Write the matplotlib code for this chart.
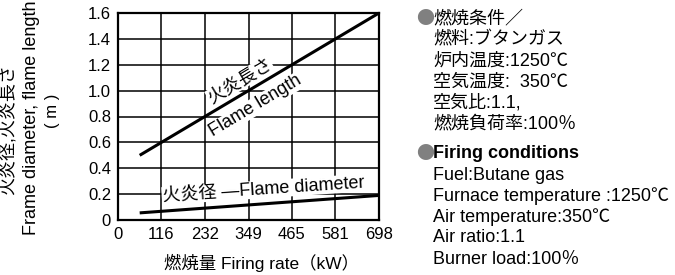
import matplotlib
matplotlib.use("Agg")
import matplotlib.pyplot as plt
import numpy as np

plt.rcParams['font.family'] = ['Liberation Sans', 'Noto Sans CJK JP']

# Data
x_ticks = [0, 116, 232, 349, 465, 581, 698]
y_ticks = [0, 0.2, 0.4, 0.6, 0.8, 1.0, 1.2, 1.4, 1.6]
y_ticklabels = ['0', '0.2', '0.4', '0.6', '0.8', '1.0', '1.2', '1.4', '1.6']
firing_rate = [58, 698]
flame_length = [0.50, 1.60]
flame_diameter = [0.055, 0.19]

jp_lines = ['燃焼条件／', '燃料:ブタンガス', '炉内温度:1250℃', '空気温度:  350℃',
            '空気比:1.1,', '燃焼負荷率:100％']
en_lines = ['Firing conditions', 'Fuel:Butane gas', 'Furnace temperature :1250℃',
            'Air temperature:350℃', 'Air ratio:1.1', 'Burner load:100％']

fig = plt.figure(figsize=(6.75, 2.75), dpi=100)
ax = fig.add_axes([118/675, 1-220/275, (379-118)/675, (220-13)/275])
ax.set_xlim(0, 698)
ax.set_ylim(0, 1.6)
ax.set_xticks(x_ticks)
ax.set_xticklabels([str(v) for v in x_ticks], fontsize=12)
ax.set_yticks(y_ticks)
ax.set_yticklabels(y_ticklabels, fontsize=12)
ax.tick_params(length=0, pad=5)
ax.grid(True, color='black', linewidth=1.1)
ax.set_axisbelow(True)
for s in ax.spines.values():
    s.set_linewidth(1.6)

ax.plot(firing_rate, flame_length, color='black', lw=2.2, solid_capstyle='butt', zorder=3)
ax.plot(firing_rate, flame_diameter, color='black', lw=2.2, solid_capstyle='butt', zorder=3)

# Annotations
bb = dict(facecolor='white', edgecolor='none', pad=0.3)
ax.text(326, 1.075, '火炎長さ', rotation=31, rotation_mode='anchor', ha='center', va='center',
        fontsize=13, bbox=bb, zorder=4)
ax.text(368, 0.880, 'Flame length', rotation=31, rotation_mode='anchor', ha='center', va='center',
        fontsize=13, bbox=bb, zorder=4)
ax.text(118, 0.185, '火炎径 —Flame diameter', rotation=3.8, rotation_mode='anchor',
        ha='left', va='center', fontsize=13, bbox=bb, zorder=4)

# Axis labels
fig.text(8/675, 1-130/275, '火炎径,火炎長さ', rotation=90, ha='center', va='center', fontsize=13)
fig.text(32/675, 1-118/275, 'Frame diameter, flame length', rotation=90, ha='center', va='center', fontsize=13)
fig.text(53/675, 1-111/275, '( m )', rotation=90, ha='center', va='center', fontsize=12)
fig.text(164/675, 1-263/275, '燃焼量 Firing rate（kW）', ha='left', va='center', fontsize=12.5)

# Conditions text
y0 = 19
dy = 21
fig.text(416/675, 1-y0/275, '●', color='#808080', ha='left', va='center', fontsize=13,
         family='Noto Sans CJK JP')
for i, t in enumerate(jp_lines):
    fig.text(433/675, 1-(y0+i*dy)/275, t, ha='left', va='center', fontsize=13)
y1 = 154
fig.text(416/675, 1-y1/275, '●', color='#808080', ha='left', va='center', fontsize=13,
         family='Noto Sans CJK JP')
for i, t in enumerate(en_lines):
    fig.text(433/675, 1-(y1+i*dy)/275, t, ha='left', va='center', fontsize=13,
             fontweight='bold' if i == 0 else 'normal')

fig.savefig('out.png', dpi=100)
